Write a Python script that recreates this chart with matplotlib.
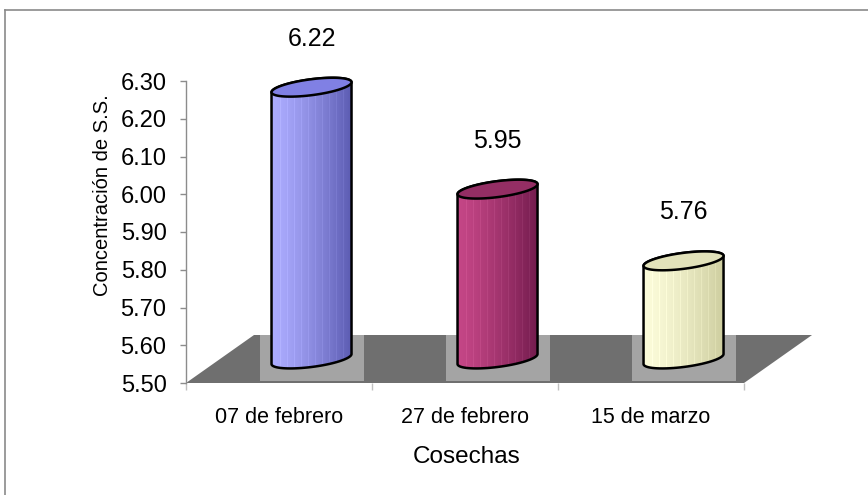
import numpy as np
import matplotlib
matplotlib.use("Agg")
import matplotlib.pyplot as plt
from matplotlib.patches import Polygon, Rectangle
from matplotlib.lines import Line2D

# --- data -------------------------------------------------------------
categories = ["07 de febrero", "27 de febrero", "15 de marzo"]
values = [6.22, 5.95, 5.76]
value_labels = ["6.22", "5.95", "5.76"]
y_ticks = [5.50, 5.60, 5.70, 5.80, 5.90, 6.00, 6.10, 6.20, 6.30]
x_title = "Cosechas"
y_title = "Concentración de S.S."

# side colours of each cylinder: lit edge, shaded edge, cap
bar_colors = [
    ((172, 172, 255), (92, 92, 178), (128, 128, 228)),
    ((196, 70, 134), (116, 28, 78), (148, 46, 100)),
    ((252, 252, 218), (206, 206, 160), (226, 226, 186)),
]

plt.rcParams['font.family'] = ['Liberation Sans', 'DejaVu Sans']

W, H = 868, 495
fig = plt.figure(figsize=(W / 100, H / 100), dpi=100)
ax = fig.add_axes([186 / W, 112 / H, 625 / W, 302 / H])
y0, y1 = y_ticks[0], y_ticks[-1]
ax.set_xlim(0, 3.36)
ax.set_ylim(y0, y1)

# pixel scale of one data unit
p0 = ax.transData.transform((0, y0))
p1 = ax.transData.transform((1, y0 + 1))
sx, sy = p1[0] - p0[0], p1[1] - p0[1]

# floor depth (receding to the upper right)
depth_x, depth_y = 68 / sx, 48 / sy
n = len(categories)

floor = Polygon([(0, y0), (n, y0), (n + depth_x, y0 + depth_y), (depth_x, y0 + depth_y)],
                closed=True, facecolor="#6f6f6f", edgecolor="none", zorder=1,
                clip_on=False)
ax.add_patch(floor)

# cylinder geometry in pixels
a_px, b_px, shear_px = 40, 8, 5


def ellipse_pts(cx, cy, t):
    return (cx + a_px * np.cos(t) / sx,
            cy + (b_px * np.sin(t) + shear_px * np.cos(t)) / sy)


for i, (v, cols) in enumerate(zip(values, bar_colors)):
    cx = i + 0.5 + depth_x / 2 - 0.008
    base = y0 + depth_y / 2
    top = v + depth_y / 2

    # light patch under each cylinder
    ax.add_patch(Rectangle((cx - 52 / sx, y0 + 2 / sy), 104 / sx, depth_y - 2 / sy,
                           facecolor="#a4a4a4", edgecolor="none", zorder=2))

    t_low = np.linspace(np.pi, 2 * np.pi, 80)
    t_up = np.linspace(0, np.pi, 80)
    bx, by = ellipse_pts(cx, base, t_low)
    tx, ty = ellipse_pts(cx, top, t_up)
    body_xy = np.column_stack([np.concatenate([bx, tx]), np.concatenate([by, ty])])
    body = Polygon(body_xy, closed=True, facecolor="none", edgecolor="black",
                   linewidth=1.8, zorder=5, clip_on=False)

    # horizontal shading with faint vertical streaks
    ncol = 80
    u = np.linspace(0, 1, ncol)
    w = u ** 1.3
    c0 = np.array(cols[0]) / 255
    c1 = np.array(cols[1]) / 255
    grad = (1 - w)[:, None] * c0 + w[:, None] * c1
    streak = np.zeros(ncol)
    streak[8:ncol - 8:7] = 0.04
    grad = np.clip(grad + streak[:, None], 0, 1)
    img = np.repeat(grad[None, :, :], 2, axis=0)
    ext = [cx - a_px / sx, cx + a_px / sx,
           base - (b_px + shear_px + 2) / sy, top + (b_px + shear_px + 2) / sy]
    im = ax.imshow(img, extent=ext, aspect="auto", interpolation="nearest", zorder=4)
    clip = Polygon(body_xy, closed=True, transform=ax.transData)
    im.set_clip_path(clip)
    im.set_clip_box(None)
    ax.add_patch(body)

    # cap
    t_all = np.linspace(0, 2 * np.pi, 160)
    ex, ey = ellipse_pts(cx, top, t_all)
    ax.add_patch(Polygon(np.column_stack([ex, ey]), closed=True,
                         facecolor=np.array(cols[2]) / 255, edgecolor="black",
                         linewidth=1.8, zorder=6, clip_on=False))

    ax.annotate(value_labels[i], xy=(cx, top), xytext=(0, 35), textcoords="offset points",
                ha="center", va="center", fontsize=18, color="black",
                annotation_clip=False, zorder=7)

ax.set_xlim(0, 3.36)
ax.set_ylim(y0, y1)

# axes styling
for side in ["top", "right", "bottom"]:
    ax.spines[side].set_visible(False)
ax.spines["left"].set_color("#8c8c8c")
ax.spines["left"].set_linewidth(1.0)
ax.set_yticks(y_ticks)
ax.set_yticklabels([f"{t:.2f}" for t in y_ticks])
ax.tick_params(axis="y", direction="out", length=4, width=1, color="#8c8c8c",
               pad=10, labelsize=17)

ax.set_xticks(np.arange(n) + 0.5)
ax.set_xticklabels(categories)
ax.set_xticks(np.arange(n + 1), minor=True)
ax.tick_params(axis="x", which="major", length=0, pad=17, labelsize=15.5)
ax.tick_params(axis="x", which="minor", direction="out", length=5, width=1,
               color="#c0c0c0")

ax.set_xlabel(x_title, fontsize=17.5)
ax.xaxis.label.set_va("center")
ax.xaxis.set_label_coords((467 - 186) / 625, (383 - 457) / 302)
ax.set_ylabel(y_title, fontsize=14.5)
ax.yaxis.label.set_va("center")
ax.yaxis.set_label_coords((102 - 186) / 625, (383 - 195) / 302)
ax.patch.set_visible(False)

# chart area frame
frame_col = "#8a8a8a"
fig.add_artist(Line2D([5 / W, 1], [1 - 10 / H, 1 - 10 / H], transform=fig.transFigure,
                      color=frame_col, linewidth=1.2))
fig.add_artist(Line2D([5 / W, 5 / W], [0, 1 - 10 / H], transform=fig.transFigure,
                      color=frame_col, linewidth=1.2))

fig.savefig("out.png", dpi=100)
